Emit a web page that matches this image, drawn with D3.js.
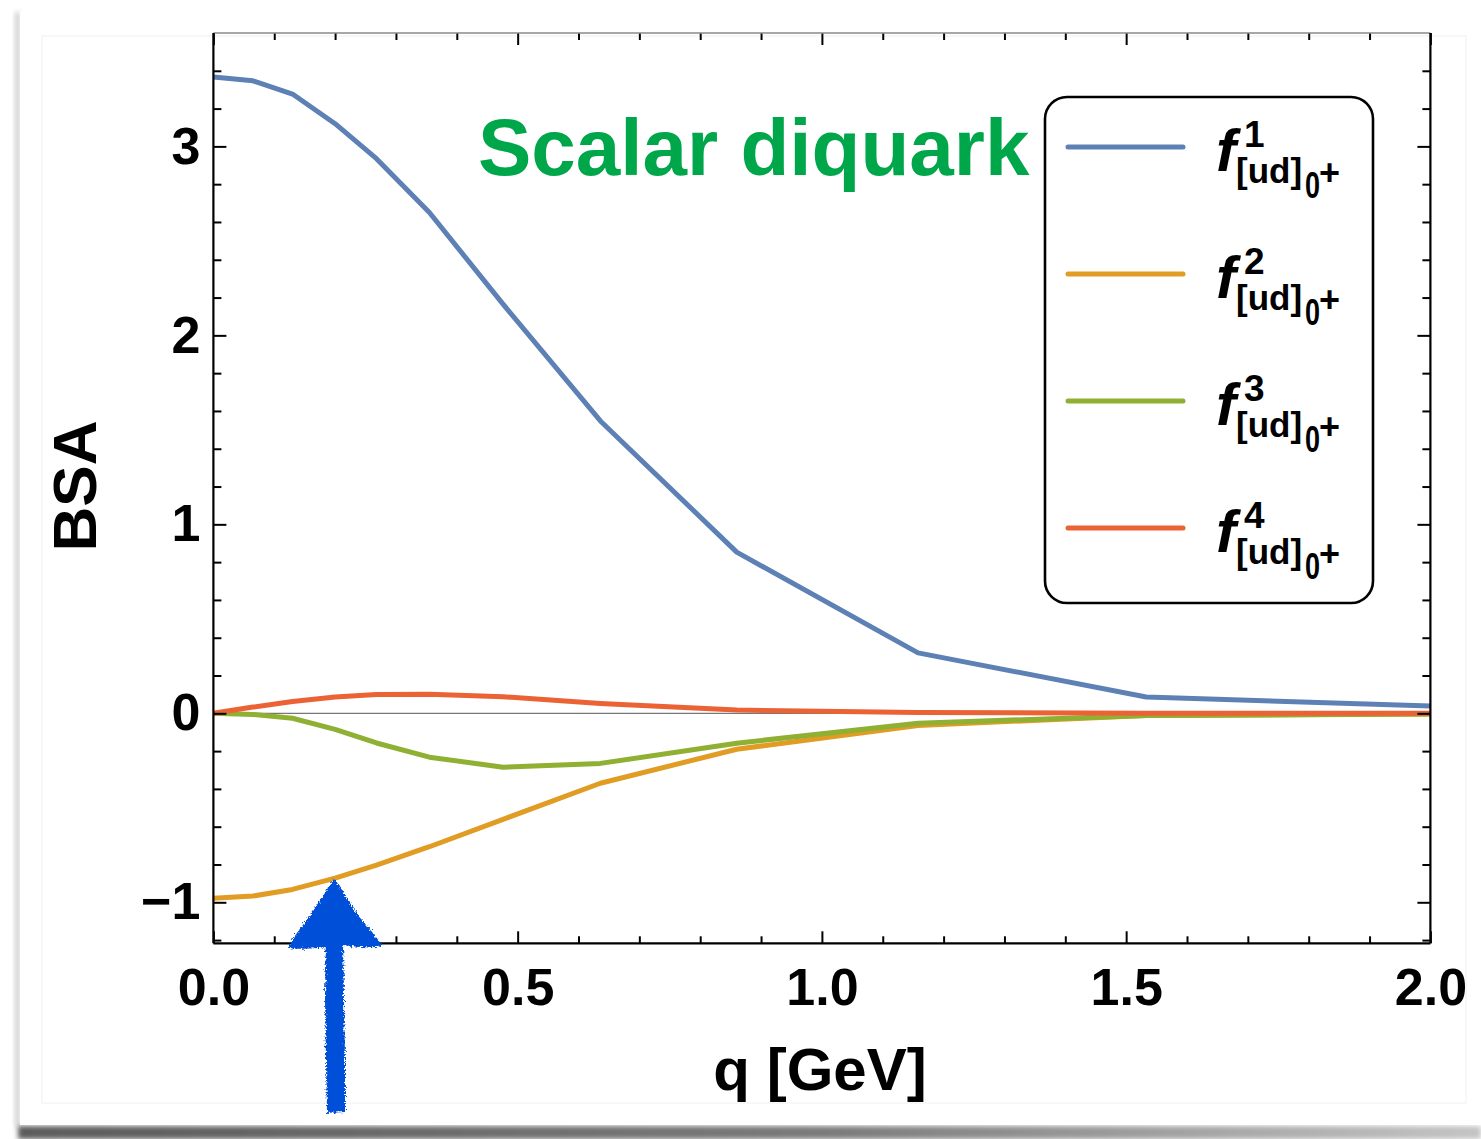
<!DOCTYPE html>
<html>
<head>
<meta charset="utf-8">
<script src="https://cdn.jsdelivr.net/npm/d3@7"></script>
<style>
  html, body { margin: 0; padding: 0; background: #fff; }
  svg { display: block; }
  text { font-family: "Liberation Sans", Arial, Helvetica, sans-serif; }
</style>
</head>
<body>
<svg id="chart" width="1481" height="1139"></svg>
<script>
// Momentum grid (GeV) on which the Bethe–Salpeter amplitudes are tabulated
const q = [0, 0.065, 0.13, 0.2, 0.268, 0.355, 0.476, 0.636, 0.86, 1.158, 1.533, 2.0];

// Scalar diquark amplitude components f^i_[ud]0+
const f1 = [3.367, 3.347, 3.277, 3.12, 2.935, 2.65, 2.165, 1.547, 0.853, 0.32, 0.086, 0.039];
const f2 = [-0.979, -0.967, -0.932, -0.872, -0.803, -0.706, -0.561, -0.37, -0.19, -0.064, -0.012, -0.003];
const f3 = [0, -0.006, -0.026, -0.085, -0.157, -0.232, -0.285, -0.265, -0.158, -0.052, -0.012, -0.004];
const f4 = [0, 0.033, 0.062, 0.086, 0.099, 0.101, 0.088, 0.052, 0.017, 0.004, 0.001, 0];

const seriesNames = ["1", "2", "3", "4"];
const seriesColors = ["#5E81B5", "#E19C24", "#8FB032", "#EB6235"];

const xTicks = [0, 0.5, 1.0, 1.5, 2.0];
const yTicks = [-1, 0, 1, 2, 3];

const svg = d3.select("#chart");

// ---- page card with soft shadow ----
const defs = svg.append("defs");
const blur = defs.append("filter").attr("id", "soft").attr("x", "-50%").attr("y", "-50%").attr("width", "200%").attr("height", "200%");
blur.append("feGaussianBlur").attr("stdDeviation", 2.5);

const shadowGrad = defs.append("linearGradient").attr("id", "shadowGrad").attr("x1", 0).attr("x2", 1).attr("y1", 0).attr("y2", 0);
shadowGrad.append("stop").attr("offset", "0%").attr("stop-color", "#5c5c5c");
shadowGrad.append("stop").attr("offset", "55%").attr("stop-color", "#7a7a7a");
shadowGrad.append("stop").attr("offset", "100%").attr("stop-color", "#c4c4c4");

svg.append("rect").attr("x", 15).attr("y", 12).attr("width", 5).attr("height", 1115)
  .attr("fill", "#cfcfcf").attr("filter", "url(#soft)");
svg.append("rect").attr("x", 18).attr("y", 1126).attr("width", 1463).attr("height", 13)
  .attr("fill", "url(#shadowGrad)").attr("filter", "url(#soft)");
svg.append("rect").attr("x", 20).attr("y", 12).attr("width", 1461).attr("height", 1113).attr("fill", "#fff");
svg.append("rect").attr("x", 42).attr("y", 36).attr("width", 1424).attr("height", 1067)
  .attr("fill", "none").attr("stroke", "#f0f0f0").attr("stroke-width", 1);

// ---- scales ----
const x = d3.scaleLinear().domain([0, 2]).range([213.4, 1430.4]);
const y = d3.scaleLinear().domain([-1.217, 3.6]).range([943.3, 33]);
const [x0, x1] = x.range();
const [y0, y1] = y.range();

const plot = svg.append("g");

defs.append("clipPath").attr("id", "plotClip")
  .append("rect").attr("x", x0).attr("y", y1).attr("width", x1 - x0).attr("height", y0 - y1);

// zero line
plot.append("line")
  .attr("x1", x0).attr("x2", x1).attr("y1", y(0)).attr("y2", y(0))
  .attr("stroke", "#777").attr("stroke-width", 1.2);

// ---- curves ----
const lineGen = d3.line().x(d => x(d[0])).y(d => y(d[1]));
const allSeries = [f1, f2, f3, f4];
const curves = plot.append("g").attr("clip-path", "url(#plotClip)");
// f4 drawn last so it stays visible where the curves meet near zero
[1, 2, 0, 3].forEach(i => {
  curves.append("path")
    .datum(q.map((qq, k) => [qq, allSeries[i][k]]))
    .attr("d", lineGen)
    .attr("fill", "none")
    .attr("stroke", seriesColors[i])
    .attr("stroke-width", 5)
    .attr("stroke-linejoin", "round")
    .attr("stroke-linecap", "round");
});

// ---- frame and ticks ----
const xMinor = d3.range(0, 2.001, 0.1).filter(v => Math.abs(v * 2 - Math.round(v * 2)) > 1e-6);
const yMinor = d3.range(-1.2, 3.5, 0.2).map(v => +v.toFixed(2)).filter(v => Math.abs(v - Math.round(v)) > 1e-6);

function styleAxis(g, color) {
  g.select(".domain").remove();
  g.selectAll(".tick line").attr("stroke", color).attr("stroke-width", 2);
}

// bottom
svg.append("g").attr("transform", `translate(0,${y0})`)
  .call(d3.axisBottom(x).tickValues(xTicks).tickSize(-12).tickPadding(25).tickFormat(d3.format(".1f")))
  .call(g => styleAxis(g, "#000"))
  .call(g => g.selectAll("text").attr("font-size", 52).attr("font-weight", "bold").attr("fill", "#000").attr("dy", "0.71em"));
svg.append("g").attr("transform", `translate(0,${y0})`)
  .call(d3.axisBottom(x).tickValues(xMinor).tickSize(-7).tickFormat(""))
  .call(g => styleAxis(g, "#000"));
// top
svg.append("g").attr("transform", `translate(0,${y1})`)
  .call(d3.axisTop(x).tickValues(xTicks).tickSize(-12).tickFormat(""))
  .call(g => styleAxis(g, "#000"));
svg.append("g").attr("transform", `translate(0,${y1})`)
  .call(d3.axisTop(x).tickValues(xMinor).tickSize(-7).tickFormat(""))
  .call(g => styleAxis(g, "#000"));
// left
svg.append("g").attr("transform", `translate(${x0},0)`)
  .call(d3.axisLeft(y).tickValues(yTicks).tickSize(-13).tickPadding(13).tickFormat(d3.format("d")))
  .call(g => styleAxis(g, "#000"))
  .call(g => g.selectAll("text").attr("font-size", 52).attr("font-weight", "bold").attr("fill", "#000"));
svg.append("g").attr("transform", `translate(${x0},0)`)
  .call(d3.axisLeft(y).tickValues(yMinor).tickSize(-8).tickFormat(""))
  .call(g => styleAxis(g, "#000"));
// right
svg.append("g").attr("transform", `translate(${x1},0)`)
  .call(d3.axisRight(y).tickValues(yTicks).tickSize(-13).tickFormat(""))
  .call(g => styleAxis(g, "#000"));
svg.append("g").attr("transform", `translate(${x1},0)`)
  .call(d3.axisRight(y).tickValues(yMinor).tickSize(-8).tickFormat(""))
  .call(g => styleAxis(g, "#000"));

// frame lines
svg.append("line").attr("x1", x0).attr("x2", x1).attr("y1", y1).attr("y2", y1).attr("stroke", "#8a8a8a").attr("stroke-width", 1.6);
svg.append("line").attr("x1", x0).attr("x2", x1).attr("y1", y0).attr("y2", y0).attr("stroke", "#000").attr("stroke-width", 2.2);
svg.append("line").attr("x1", x0).attr("x2", x0).attr("y1", y1).attr("y2", y0).attr("stroke", "#000").attr("stroke-width", 2.2);
svg.append("line").attr("x1", x1).attr("x2", x1).attr("y1", y1).attr("y2", y0).attr("stroke", "#000").attr("stroke-width", 2.2);

// ---- axis titles ----
svg.append("text").attr("x", 820).attr("y", 1090).attr("text-anchor", "middle")
  .attr("font-size", 60).attr("font-weight", "bold").attr("fill", "#000").text("q [GeV]");
svg.append("text").attr("transform", "translate(96,486) rotate(-90)").attr("text-anchor", "middle")
  .attr("font-size", 62).attr("font-weight", "bold").attr("fill", "#000").text("BSA");

// ---- panel title ----
svg.append("text").attr("x", 478).attr("y", 175)
  .attr("font-size", 80).attr("font-weight", "bold").attr("fill", "#00A64A").text("Scalar diquark");

// ---- legend ----
const legend = svg.append("g");
legend.append("rect").attr("x", 1045).attr("y", 97).attr("width", 328).attr("height", 506).attr("rx", 22)
  .attr("fill", "#fff").attr("stroke", "#000").attr("stroke-width", 2.6);
const rowY = [147, 274, 401, 528];
seriesNames.forEach((name, i) => {
  const ry = rowY[i];
  const g = legend.append("g");
  g.append("line").attr("x1", 1068).attr("x2", 1183).attr("y1", ry).attr("y2", ry)
    .attr("stroke", seriesColors[i]).attr("stroke-width", 5).attr("stroke-linecap", "round");
  g.append("text").attr("x", 1216).attr("y", ry + 24)
    .attr("font-size", 60).attr("font-weight", "bold").attr("font-style", "italic").attr("fill", "#000").text("f");
  g.append("text").attr("x", 1244).attr("y", ry)
    .attr("font-size", 37).attr("font-weight", "bold").attr("fill", "#000").text(name);
  g.append("text").attr("x", 1236).attr("y", ry + 36)
    .attr("font-size", 35).attr("font-weight", "bold").attr("fill", "#000").text("[ud]");
  g.append("text").attr("x", 1305).attr("y", ry + 51).attr("transform", `translate(${1305 * 0.25},0) scale(0.75,1)`)
    .attr("font-size", 36).attr("font-weight", "bold").attr("fill", "#000").text("0");
  g.append("text").attr("x", 1319).attr("y", ry + 38)
    .attr("font-size", 36).attr("font-weight", "bold").attr("fill", "#000").text("+");
});

// ---- hand-drawn pointer arrow ----
const rough = defs.append("filter").attr("id", "rough").attr("x", "-20%").attr("y", "-20%").attr("width", "140%").attr("height", "140%");
rough.append("feTurbulence").attr("type", "fractalNoise").attr("baseFrequency", 0.55).attr("numOctaves", 2).attr("seed", 4).attr("result", "noise");
rough.append("feDisplacementMap").attr("in", "SourceGraphic").attr("in2", "noise").attr("scale", 7)
  .attr("xChannelSelector", "R").attr("yChannelSelector", "G");

const arrowColor = "#0350D9";
const arrow = svg.append("g").attr("filter", "url(#rough)");
arrow.append("path")
  .attr("d", "M326,935 L343,935 L344,1000 L345,1060 L345,1112 L327,1113 L326,1060 L325,1000 Z")
  .attr("fill", arrowColor);
arrow.append("path")
  .attr("d", "M334,879 C340,885 350,905 362,920 C370,930 378,938 382,946 C365,950 350,944 336,946 C320,948 305,950 288,948 C292,938 300,930 308,918 C318,905 328,888 334,879 Z")
  .attr("fill", arrowColor);
</script>
</body>
</html>
